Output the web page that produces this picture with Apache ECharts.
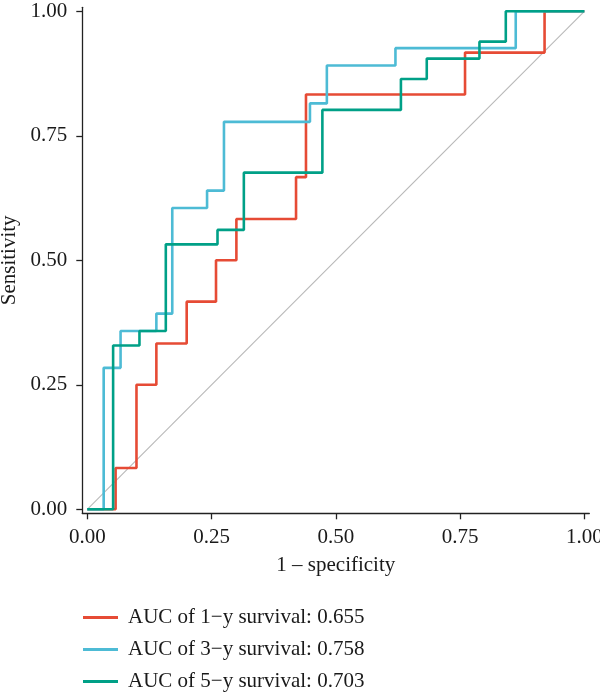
<!DOCTYPE html>
<html>
<head>
<meta charset="utf-8">
<title>ROC curves</title>
<script src="https://cdn.jsdelivr.net/npm/echarts@6/dist/echarts.min.js"></script>
<style>
    html, body { margin: 0; padding: 0; background: #fff; }
    #chart { width: 600px; height: 694px; }
</style>
</head>
<body>
<div id="chart"></div>
<script>
    // ROC points (1 - specificity, sensitivity)
    var fpr1 = [0, 0.057, 0.057, 0.099, 0.099, 0.139, 0.139, 0.2, 0.2, 0.259, 0.259, 0.3, 0.3, 0.42, 0.42, 0.44, 0.44, 0.76, 0.76, 0.92, 0.92, 1];
    var tpr1 = [0, 0, 0.083, 0.083, 0.25, 0.25, 0.333, 0.333, 0.417, 0.417, 0.5, 0.5, 0.583, 0.583, 0.667, 0.667, 0.833, 0.833, 0.917, 0.917, 1, 1];

    var fpr3 = [0, 0.033, 0.033, 0.067, 0.067, 0.139, 0.139, 0.171, 0.171, 0.241, 0.241, 0.275, 0.275, 0.448, 0.448, 0.482, 0.482, 0.62, 0.62, 0.862, 0.862, 1];
    var tpr3 = [0, 0, 0.284, 0.284, 0.358, 0.358, 0.393, 0.393, 0.605, 0.605, 0.64, 0.64, 0.778, 0.778, 0.815, 0.815, 0.891, 0.891, 0.926, 0.926, 1, 1];

    var fpr5 = [0, 0.052, 0.052, 0.105, 0.105, 0.158, 0.158, 0.262, 0.262, 0.315, 0.315, 0.473, 0.473, 0.631, 0.631, 0.683, 0.683, 0.789, 0.789, 0.842, 0.842, 1];
    var tpr5 = [0, 0, 0.329, 0.329, 0.358, 0.358, 0.532, 0.532, 0.561, 0.561, 0.676, 0.676, 0.802, 0.802, 0.864, 0.864, 0.905, 0.905, 0.939, 0.939, 1, 1];

    var seriesNames = ['AUC of 1\u2212y survival: 0.655', 'AUC of 3\u2212y survival: 0.758', 'AUC of 5\u2212y survival: 0.703'];
    var tickValues = [0, 0.25, 0.5, 0.75, 1];
    var refLine = [0, 1];

    var font = 'Liberation Serif';
    var ink = '#1a1a1a';
    var fs = 21;

    function zip(xs, ys) {
        return xs.map(function (x, i) { return [x, ys[i]]; });
    }

    var axisCommon = {
        type: 'value',
        nameLocation: 'middle',
        nameTextStyle: { fontFamily: font, fontSize: fs, color: ink },
        axisLine: { show: true, onZero: false, lineStyle: { color: '#222', width: 1.3 } },
        axisTick: { show: true, length: 6, customValues: tickValues, lineStyle: { color: '#222', width: 1.3 } },
        axisLabel: {
            customValues: tickValues,
            fontFamily: font, fontSize: fs, color: ink,
            formatter: function (v) { return v.toFixed(2); }
        },
        splitLine: { show: false }
    };

    var chart = echarts.init(document.getElementById('chart'));
    var option = {
        backgroundColor: '#fff',
        animation: false,
        grid: { left: 82.3, right: 10.7, top: 7.3, bottom: 180.7, containLabel: false, outerBoundsMode: 'none' },
        xAxis: Object.assign({}, axisCommon, {
            min: -0.01, max: 1.01,
            name: '1 \u2013 specificity',
            nameGap: 42,
            axisLabel: Object.assign({}, axisCommon.axisLabel, { margin: 13.5 })
        }),
        yAxis: Object.assign({}, axisCommon, {
            min: -0.008, max: 1.008,
            name: 'Sensitivity',
            nameGap: 53,
            axisLabel: Object.assign({}, axisCommon.axisLabel, { margin: 15 })
        }),
        legend: {
            orient: 'vertical',
            left: 83,
            top: 607,
            height: 89,
            padding: 0,
            icon: 'rect',
            itemWidth: 35,
            itemHeight: 3,
            itemGap: 11,
            data: seriesNames,
            textStyle: { fontFamily: font, fontSize: fs, color: ink, padding: [0, 0, 0, 5] }
        },
        series: [
            {
                name: 'ref',
                type: 'line',
                data: zip(refLine, refLine),
                symbol: 'none',
                silent: true,
                lineStyle: { color: '#b8b8b8', width: 1.1 }
            },
            {
                name: seriesNames[0],
                type: 'line',
                data: zip(fpr1, tpr1),
                symbol: 'none',
                color: '#E64B35',
                lineStyle: { color: '#E64B35', width: 2.6 }
            },
            {
                name: seriesNames[1],
                type: 'line',
                data: zip(fpr3, tpr3),
                symbol: 'none',
                color: '#4DBBD5',
                lineStyle: { color: '#4DBBD5', width: 2.6 }
            },
            {
                name: seriesNames[2],
                type: 'line',
                data: zip(fpr5, tpr5),
                symbol: 'none',
                color: '#00A087',
                lineStyle: { color: '#00A087', width: 2.6 }
            }
        ]
    };
    chart.setOption(option);
</script>
</body>
</html>
